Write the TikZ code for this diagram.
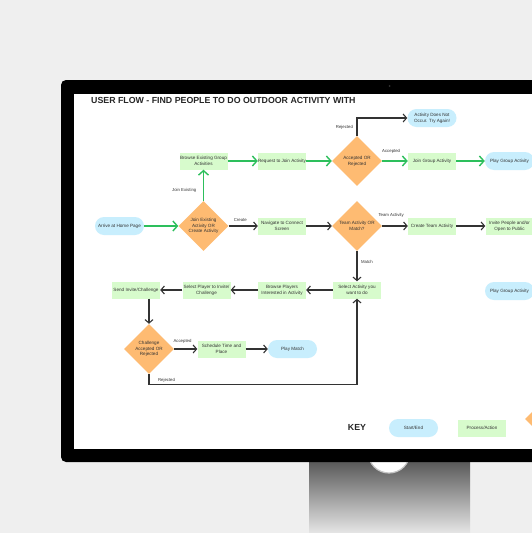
\documentclass[tikz,border=0pt]{standalone}
\usepackage{fontspec}
\setmainfont{Liberation Sans}
\usetikzlibrary{arrows.meta,shapes.geometric}
\definecolor{skyfill}{HTML}{C8EEFD}
\definecolor{leaffill}{HTML}{D7FBCC}
\definecolor{peach}{HTML}{FEBB72}
\definecolor{flowgreen}{HTML}{2DBF5C}
\definecolor{ink}{HTML}{333333}
\definecolor{titleink}{HTML}{262626}
\definecolor{backdrop}{HTML}{EFEFEF}
\definecolor{standtop}{HTML}{5A5A5A}
\definecolor{standmid}{HTML}{BDBDBD}
\definecolor{standbot}{HTML}{E6E6E6}

\tikzset{
  pill/.style={rounded corners=9pt, fill=skyfill, minimum width=49pt, minimum height=18pt, inner sep=0pt, align=center, text=ink, font=\fontsize{4.6}{5.7}\selectfont},
  process/.style={fill=leaffill, minimum width=48pt, minimum height=17pt, inner sep=0pt, align=center, text=ink, font=\fontsize{4.6}{5.7}\selectfont},
  decision/.style={diamond, aspect=1, fill=peach, minimum width=50pt, minimum height=50pt, inner sep=0pt, align=center, text=ink, font=\fontsize{4.6}{5.7}\selectfont},
  go/.style={flowgreen, line width=1.4pt, -{Straight Barb[length=4.5pt,width=10pt]}},
  flow/.style={ink, line width=1.1pt, -{Straight Barb[length=3.5pt,width=8pt]}},
  tag/.style={font=\fontsize{4.3}{5}\selectfont, text=ink, inner sep=0.5pt}
}

\begin{document}
\begin{tikzpicture}[x=1pt,y=-1pt]
\clip (0,0) rectangle (532,533);
\fill[backdrop] (0,0) rectangle (532,533);
\shade[top color=standtop, middle color=standmid, bottom color=standbot] (309,462) rectangle (470,533);
\fill[white, draw=gray!45, line width=1.2pt] (389,452) circle (21pt);
\fill[black, rounded corners=5pt] (61,80) rectangle (580,462);
\fill[white] (74,94) rectangle (580,449);
\fill[ink] (389.5,86) circle (1pt);

\node[font=\bfseries\fontsize{8.8}{10}\selectfont, text=titleink, anchor=west, inner sep=0pt] (title) at (91,100) {USER FLOW - FIND PEOPLE TO DO OUTDOOR ACTIVITY WITH};

\foreach \nm/\x/\y/\txt in {browse/203.5/161/{Browse Existing Group\\Activities}, request/282/161/{Request to Join Activity}, joingroup/432/161/{Join Group Activity}, navigate/282/226/{Navigate to Connect\\Screen}, createteam/432/226/{Create Team Activity}, invite/509.5/226/{Invite People and/or\\Open to Public}, selact/357/290/{Select Activity you\\want to do}, browsepl/282/290/{Browse Players\\Interested in Activity}, selplayer/206.5/290/{Select Player to Invite/\\Challenge}, sendinv/136/290/{Send Invite/Challenge}, schedule/221.5/349/{Schedule Time and\\Place}, keyproc/482/428/{Process/Action}} {
  \node[process] (\nm) at (\x,\y) {\txt};
}
\foreach \nm/\x/\y/\txt in {notoccur/432/118/{Activity Does Not\\Occur. Try Again!}, playgroup/509.5/161/{Play Group Activity}, arrive/119.5/226/{Arrive at Home Page}, playgroupb/509.5/291/{Play Group Activity}, playmatch/292.5/349/{Play Match}, keystart/413.5/428/{Start/End}} {
  \node[pill] (\nm) at (\x,\y) {\txt};
}
\foreach \nm/\x/\y/\txt in {accept/357/161/{Accepted OR\\Rejected}, join/203.5/226/{Join Existing\\Activity OR\\Create Activity}, teammatch/357/226/{Team Activity OR\\Match?}, challenge/149/349/{Challenge\\Accepted OR\\Rejected}, keydec/550/419/{}} {
  \node[decision] (\nm) at (\x,\y) {\txt};
}
\node[font=\bfseries\fontsize{8.8}{10}\selectfont, text=titleink] (keylabel) at (357,427) {KEY};

\foreach \a/\b in {arrive/join, browse/request, request/accept, joingroup/playgroup} {
  \draw[go] (\a) -- (\b);
}
\draw[go] (join) -- node[tag, pos=0.35, left=6pt] {Join Existing} (browse);
\draw[go] (accept) -- node[tag, pos=0.35, above=6pt] {Accepted} (joingroup);
\foreach \a/\b in {navigate/teammatch, createteam/invite, selact/browsepl, browsepl/selplayer, selplayer/sendinv, schedule/playmatch} {
  \draw[flow] (\a) -- (\b);
}
\draw[flow] (join) -- node[tag, pos=0.4, above=3pt] {Create} (navigate);
\draw[flow] (teammatch) -- node[tag, pos=0.35, above=8pt] {Team Activity} (createteam);
\draw[flow] (teammatch) -- node[tag, pos=0.37, right=3pt] {Match} (selact);
\draw[flow] (challenge) -- node[tag, pos=0.36, above=5pt] {Accepted} (schedule);
\draw[flow] (accept.north) |- node[tag, pos=0.25, left=3pt] {Rejected} (notoccur.west);
\draw[flow] (challenge.north |- sendinv.south) -- (challenge.north);
\draw[flow] (challenge.south) -- ++(0,10.5) node[tag, anchor=south west, xshift=8pt, yshift=1.5pt] {Rejected} -| (selact.south);
\end{tikzpicture}
\end{document}
